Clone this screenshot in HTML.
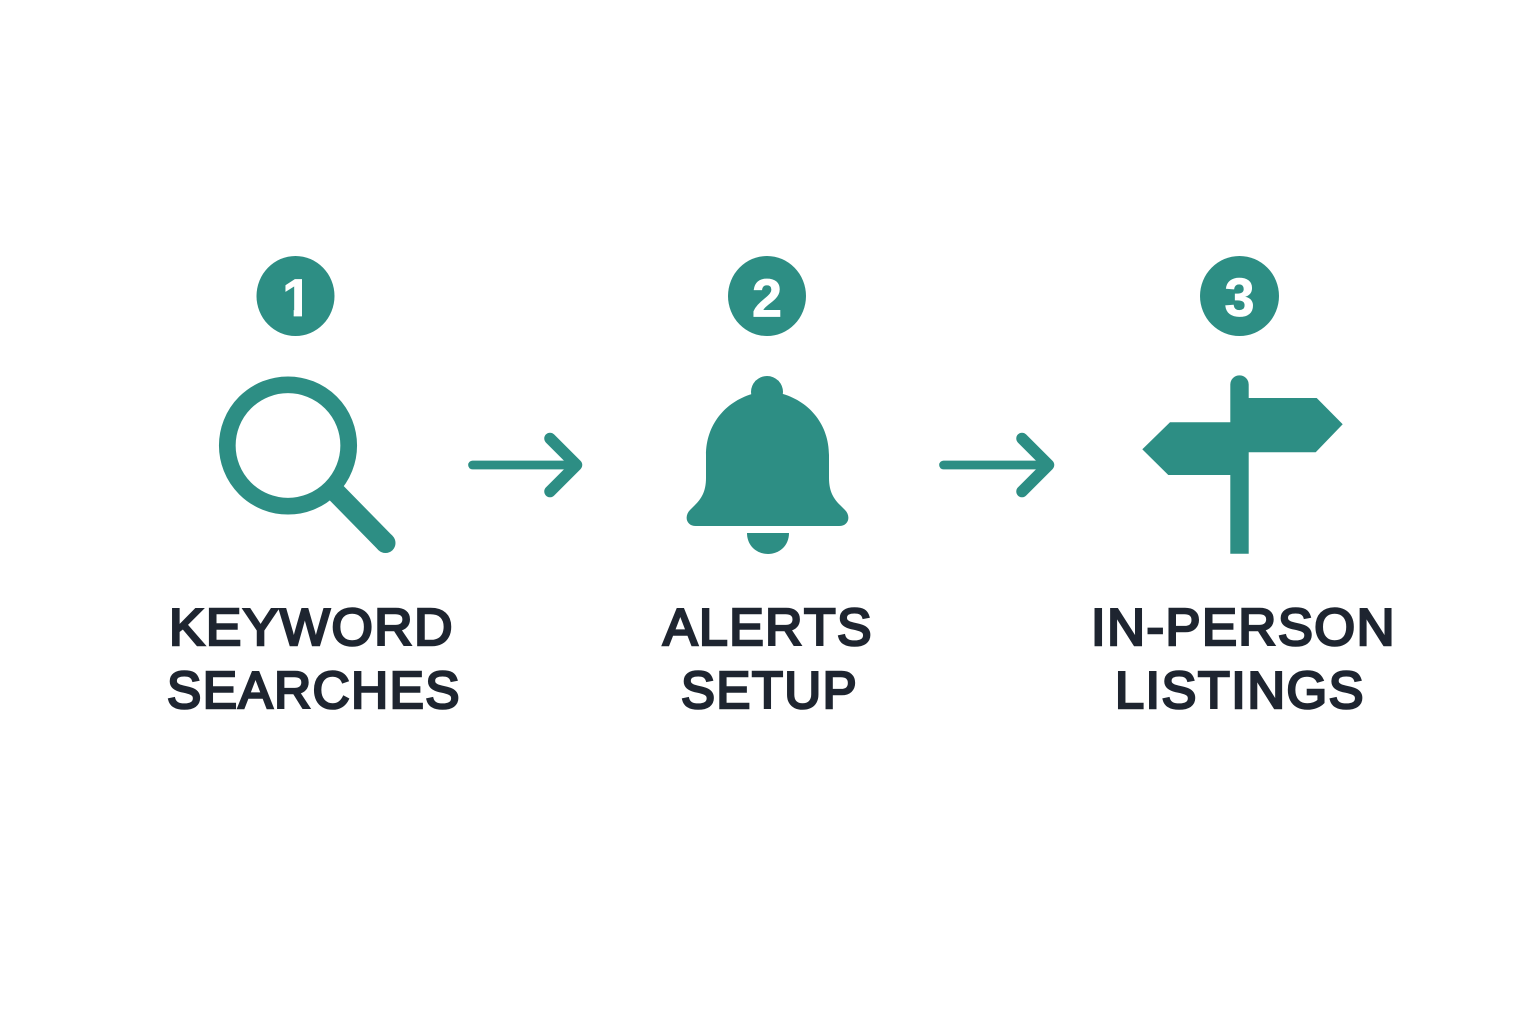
<!DOCTYPE html>
<html lang="en">
<head>
<meta charset="utf-8">
<title>Three steps</title>
<style>
html,body{margin:0;padding:0;background:#fff;width:1536px;height:1024px;overflow:hidden}
svg{display:block}
.t{font-family:"Liberation Sans",sans-serif;font-weight:400;font-size:52px;font-kerning:none;letter-spacing:1.5px;fill:#1e2530;stroke:#1e2530;stroke-width:2.6;stroke-linejoin:miter}
.n{font-family:"Liberation Sans",sans-serif;font-weight:700;font-size:54px;fill:#fff;stroke:#fff;stroke-width:.8;text-anchor:middle}
</style>
</head>
<body>
<svg width="1536" height="1024" viewBox="0 0 1536 1024" xmlns="http://www.w3.org/2000/svg">
<defs>
<clipPath id="one"><polygon points="275,270 302,270 302,320 293.700,320 293.700,303 275,303"/></clipPath>
</defs>
<rect width="1536" height="1024" fill="#fff"/>
<g fill="#2d8e84">
<ellipse cx="295.500" cy="296" rx="39" ry="40"/>
<ellipse cx="767" cy="296" rx="39" ry="40"/>
<ellipse cx="1239.500" cy="296" rx="39.500" ry="40"/>
</g>
<text class="n" x="297" y="316" style="font-size:53px" clip-path="url(#one)">1</text>
<text class="n" x="767" y="316.500">2</text>
<text class="n" x="1239.500" y="316">3</text>

<!-- magnifier -->
<circle cx="288" cy="445.500" r="60.700" fill="none" stroke="#2d8e84" stroke-width="16.700"/>
<path d="M336 492.500 L385.500 543" fill="none" stroke="#2d8e84" stroke-width="20"/>
<circle cx="385.500" cy="543" r="10" fill="#2d8e84"/>

<!-- arrows -->
<g fill="none" stroke="#2d8e84" stroke-linecap="round" stroke-linejoin="round">
<path stroke-width="8.700" d="M472.500 465 H576"/>
<path stroke-width="11.500" d="M550 438.500 L576.500 465 L550 491.500"/>
<path stroke-width="8.700" d="M943.500 465 H1048"/>
<path stroke-width="11.500" d="M1022 438.500 L1048.500 465 L1022 491.500"/>
</g>

<!-- bell -->
<g fill="#2d8e84">
<circle cx="767" cy="392" r="16"/>
<path d="M752 394 C725 402 706 425 706 455 L706 478 C706 492 701 499 695 505 L690 510 C684 516 686 526 696 526 L839 526 C849 526 851 516 845 510 L840 505 C834 499 829 492 829 478 L829 455 C829 425 810 402 783 394 Z"/>
<path d="M747 533 H789 C789 546 779 554 768 554 C757 554 747 546 747 533 Z"/>
</g>

<!-- signpost -->
<g fill="#2d8e84">
<path d="M1230.300 553.700 V384.500 A9.200 9.200 0 0 1 1248.700 384.500 V553.700 Z"/>
<path d="M1248 398 H1316.700 L1342.700 424.300 L1315.700 452.300 H1248 Z"/>
<path d="M1231 422.300 H1170 L1142.300 449.300 L1168.300 475 H1231 Z"/>
</g>

<!-- labels -->
<text class="t" x="169" y="645" textLength="285" lengthAdjust="spacingAndGlyphs">KEYWORD</text>
<text class="t" x="167" y="708" textLength="294" lengthAdjust="spacingAndGlyphs">SEARCHES</text>
<text class="t" x="663" y="645" textLength="210" lengthAdjust="spacingAndGlyphs">ALERTS</text>
<text class="t" x="681" y="708" textLength="177" lengthAdjust="spacingAndGlyphs">SETUP</text>
<text class="t" x="1091" y="645" textLength="305" lengthAdjust="spacingAndGlyphs">IN-PERSON</text>
<text class="t" x="1115" y="708" textLength="250" lengthAdjust="spacingAndGlyphs">LISTINGS</text>
</svg>
</body>
</html>
